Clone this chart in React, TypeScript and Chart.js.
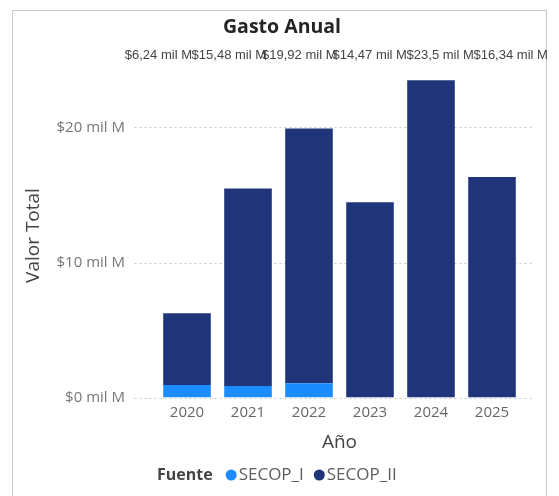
import React, { useEffect, useRef } from "react";
import { Chart, registerables } from "chart.js";

Chart.register(...registerables);

const years = ["2020", "2021", "2022", "2023", "2024", "2025"];
const secopI = [0.93, 0.85, 1.05, 0, 0, 0];
const secopII = [5.31, 14.63, 18.87, 14.47, 23.5, 16.34];
const totals = [6.24, 15.48, 19.92, 14.47, 23.5, 16.34];
const yTickValues = [0, 10, 20];
const seriesNames = ["SECOP_I", "SECOP_II"];
const seriesColors = ["#1a8cff", "#1f3479"];
const legendTitle = "Fuente";
const chartTitle = "Gasto Anual";
const xTitle = "Año";
const yTitle = "Valor Total";

const FONT = "'Open Sans', 'Noto Sans', sans-serif";
const LABEL_FONT = "'Liberation Sans', Arial, sans-serif";

const fmt = (v: number) => "$" + String(v).replace(".", ",") + " mil M";

export default function App() {
  const ref = useRef<HTMLCanvasElement>(null);

  useEffect(() => {
    const canvas = ref.current;
    if (!canvas) return;

    const overlay = {
      id: "overlay",
      beforeDatasetsDraw(chart: any) {
        const { ctx, chartArea } = chart;
        const y = chart.scales.y;
        ctx.save();
        ctx.strokeStyle = "#c8c8c8";
        ctx.lineWidth = 1;
        ctx.setLineDash([2, 3]);
        for (const v of yTickValues) {
          const py = Math.round(y.getPixelForValue(v)) + 0.5;
          ctx.beginPath();
          ctx.moveTo(chartArea.left - 22, py);
          ctx.lineTo(chartArea.right + 12, py);
          ctx.stroke();
        }
        ctx.restore();
      },
      afterDraw(chart: any) {
        const { ctx } = chart;
        const x = chart.scales.x;
        ctx.save();
        // Title
        ctx.fillStyle = "#252423";
        ctx.font = `bold 19.5px ${FONT}`;
        ctx.textAlign = "center";
        ctx.textBaseline = "middle";
        ctx.fillText(chartTitle, 282, 27);

        // Total labels (spread wider than bars, as in the reference)
        const first = x.getPixelForValue(0);
        const last = x.getPixelForValue(years.length - 1);
        const mid = (first + last) / 2;
        ctx.font = `13px ${LABEL_FONT}`;
        ctx.fillStyle = "#444444";
        totals.forEach((t, i) => {
          const px = x.getPixelForValue(i);
          const lx = mid - 5 + (px - mid) * 1.155;
          ctx.fillText(fmt(t), lx, 55);
        });

        // Legend
        const ly = 475;
        let lx = 157;
        ctx.textAlign = "left";
        ctx.font = `bold 16px ${FONT}`;
        ctx.fillStyle = "#444444";
        ctx.fillText(legendTitle, lx, ly);
        lx += ctx.measureText(legendTitle).width + 13;
        ctx.font = `17px ${FONT}`;
        seriesNames.forEach((name, i) => {
          ctx.fillStyle = seriesColors[i];
          ctx.beginPath();
          ctx.arc(lx + 5.5, ly, 5.5, 0, Math.PI * 2);
          ctx.fill();
          lx += 13;
          ctx.fillStyle = "#605e5c";
          ctx.fillText(name, lx, ly);
          lx += ctx.measureText(name).width + 10;
        });
        ctx.restore();
      },
    };

    const chart = new Chart(canvas, {
      type: "bar",
      data: {
        labels: years,
        datasets: [
          {
            label: seriesNames[0],
            data: secopI,
            backgroundColor: seriesColors[0],
            borderWidth: 0,
            barPercentage: 0.78,
            categoryPercentage: 1,
          },
          {
            label: seriesNames[1],
            data: secopII,
            backgroundColor: seriesColors[1],
            borderWidth: 0,
            barPercentage: 0.78,
            categoryPercentage: 1,
          },
        ],
      },
      options: {
        responsive: false,
        animation: false,
        layout: { padding: { left: 14, right: 36.5, top: 73.5, bottom: 38.5 } },
        plugins: {
          legend: { display: false },
          title: { display: false },
          tooltip: { enabled: false },
        },
        scales: {
          x: {
            stacked: true,
            grid: { display: false, drawTicks: false },
            border: { display: false },
            ticks: {
              color: "#666666",
              padding: 6,
              font: { family: FONT, size: 15 },
            },
            title: {
              display: true,
              text: xTitle,
              color: "#444444",
              font: { family: FONT, size: 19 },
              padding: { top: 0, bottom: 4 },
            },
            afterFit: (s: any) => {
              s.height = 60;
            },
          },
          y: {
            stacked: true,
            min: 0,
            max: 24,
            grid: { display: false, drawTicks: false },
            border: { display: false },
            afterBuildTicks: (s: any) => {
              s.ticks = yTickValues.map((v) => ({ value: v }));
            },
            ticks: {
              color: "#777777",
              padding: 31.5,
              font: { family: FONT, size: 15 },
              callback: (v: any) => fmt(Number(v)),
            },
            title: {
              display: true,
              text: yTitle,
              color: "#444444",
              font: { family: FONT, size: 19 },
              padding: { top: 8, bottom: 0 },
            },
            afterFit: (s: any) => {
              s.width = 142.5;
            },
          },
        },
      },
      plugins: [overlay],
    });

    return () => chart.destroy();
  }, []);

  return (
    <div
      style={{
        position: "fixed",
        left: 0,
        top: 0,
        width: 559,
        height: 496,
        background: "#ffffff",
        overflow: "hidden",
      }}
    >
      <div
        style={{
          position: "absolute",
          left: 12,
          top: 10,
          width: 535,
          height: 500,
          border: "1px solid #c8c8c8",
          boxSizing: "border-box",
        }}
      />
      <canvas
        ref={ref}
        width={559}
        height={496}
        style={{ position: "absolute", left: 0, top: 0, width: 559, height: 496 }}
      />
    </div>
  );
}
